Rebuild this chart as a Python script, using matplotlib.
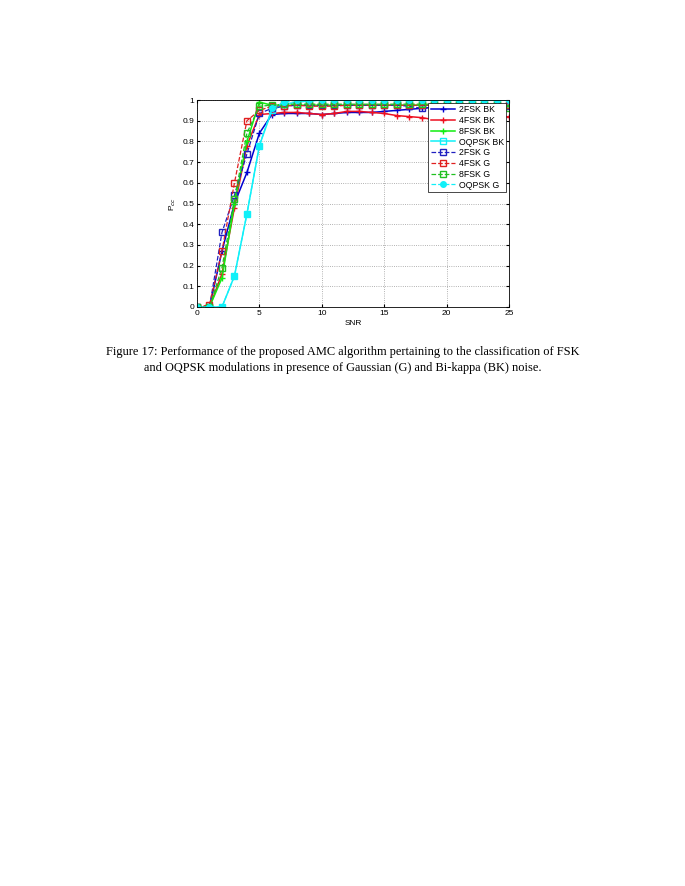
import matplotlib
matplotlib.use("Agg")
import matplotlib.pyplot as plt

plt.rcParams["font.family"] = ["Liberation Sans", "DejaVu Sans"]

snr = list(range(0, 26))

fsk2_bk = [0, 0, 0.27, 0.50, 0.65, 0.84, 0.93, 0.935, 0.935, 0.935, 0.93, 0.935, 0.94, 0.94, 0.94,
           0.945, 0.95, 0.955, 0.96, 0.965, 0.965, 0.97, 0.97, 0.97, 0.97, 0.97]
fsk4_bk = [0, 0, 0.16, 0.48, 0.78, 0.93, 0.935, 0.94, 0.94, 0.935, 0.93, 0.935, 0.945, 0.945, 0.94,
           0.935, 0.925, 0.92, 0.915, 0.905, 0.90, 0.90, 0.905, 0.91, 0.915, 0.92]
fsk8_bk = [0, 0, 0.14, 0.50, 0.80, 0.99, 0.975, 0.975, 0.975, 0.975, 0.975, 0.975, 0.975, 0.975, 0.975,
           0.975, 0.975, 0.975, 0.975, 0.975, 0.975, 0.975, 0.975, 0.975, 0.975, 0.97]
oqpsk_bk = [0, 0, 0, 0.15, 0.45, 0.78, 0.95, 0.98, 0.99, 0.995, 1, 1, 1, 1, 1,
            1, 1, 1, 1, 1, 1, 1, 1, 1, 1, 1]
fsk2_g = [0, 0, 0.36, 0.54, 0.74, 0.935, 0.96, 0.97, 0.975, 0.975, 0.975, 0.975, 0.975, 0.975, 0.975,
          0.975, 0.975, 0.97, 0.96, 0.965, 0.97, 0.97, 0.97, 0.97, 0.97, 0.97]
fsk4_g = [0, 0.01, 0.27, 0.60, 0.90, 0.95, 0.97, 0.97, 0.975, 0.97, 0.97, 0.97, 0.975, 0.975, 0.975,
          0.975, 0.975, 0.975, 0.975, 0.975, 0.975, 0.975, 0.975, 0.975, 0.975, 0.975]
fsk8_g = [0, 0, 0.19, 0.52, 0.84, 0.97, 0.975, 0.98, 0.98, 0.98, 0.98, 0.98, 0.98, 0.98, 0.98,
          0.98, 0.98, 0.98, 0.98, 0.98, 0.98, 0.98, 0.98, 0.98, 0.98, 0.96]
oqpsk_g = [0, 0, 0, 0.15, 0.45, 0.78, 0.96, 0.99, 1, 1, 1, 1, 1, 1, 1,
           1, 1, 1, 1, 1, 1, 1, 1, 1, 1, 1]

labels = ["2FSK BK", "4FSK BK", "8FSK BK", "OQPSK BK", "2FSK G", "4FSK G", "8FSK G", "OQPSK G"]

fig = plt.figure(figsize=(6.85, 8.86), dpi=100)
ax = fig.add_axes([0.2876, 0.6535, 0.4555, 0.2336])

ms = 4
ax.plot(snr, fsk2_bk, color="#0000d0", ls="-", marker="+", ms=ms, lw=1.1, label=labels[0])
ax.plot(snr, fsk4_bk, color="#ee1020", ls="-", marker="+", ms=ms, lw=1.1, label=labels[1])
ax.plot(snr, fsk8_bk, color="#10ee10", ls="-", marker="+", ms=ms, lw=1.1, label=labels[2])
ax.plot(snr, oqpsk_bk, color="#10f0f8", ls="-", marker="s", ms=ms, mfc="none", lw=1.1, label=labels[3])
ax.plot(snr, fsk2_g, color="#2020c0", ls="--", marker="s", ms=ms, mfc="none", lw=0.9, label=labels[4])
ax.plot(snr, fsk4_g, color="#e02020", ls="--", marker="s", ms=ms, mfc="none", lw=0.9, label=labels[5])
ax.plot(snr, fsk8_g, color="#20c020", ls="--", marker="s", ms=ms, mfc="none", lw=0.9, label=labels[6])
ax.plot(snr, oqpsk_g, color="#10f0f8", ls="--", marker="o", ms=ms, lw=0.9, label=labels[7])

ax.set_xlim(0, 25)
ax.set_ylim(0, 1)
ax.set_xticks([0, 5, 10, 15, 20, 25])
ax.set_yticks([0, 0.1, 0.2, 0.3, 0.4, 0.5, 0.6, 0.7, 0.8, 0.9, 1])
ax.set_yticklabels(["0", "0.1", "0.2", "0.3", "0.4", "0.5", "0.6", "0.7", "0.8", "0.9", "1"])
ax.tick_params(direction="in", labelsize=6, length=2, top=True, right=True, pad=2)
ax.grid(True, ls=":", color="#999999", lw=0.6)
for s in ax.spines.values():
    s.set_linewidth(0.6)
ax.set_xlabel("SNR", fontsize=6, labelpad=2)
ax.set_ylabel("P$_{cc}$", fontsize=6, labelpad=3)

leg = ax.legend(loc="upper right", fontsize=6.3, handlelength=2.8, borderpad=0.3,
                labelspacing=0.2, fancybox=False, framealpha=1, borderaxespad=0.3,
                handletextpad=0.4)
leg.get_frame().set_edgecolor("black")
leg.get_frame().set_linewidth(0.5)

fig.text(0.5, 0.603, "Figure 17: Performance of the proposed AMC algorithm pertaining to the classification of FSK",
         ha="center", va="center", family="Liberation Serif", fontsize=8.9)
fig.text(0.5, 0.585, "and OQPSK modulations in presence of Gaussian (G) and Bi-kappa (BK) noise.",
         ha="center", va="center", family="Liberation Serif", fontsize=8.9)

fig.savefig("out.png", dpi=100)
